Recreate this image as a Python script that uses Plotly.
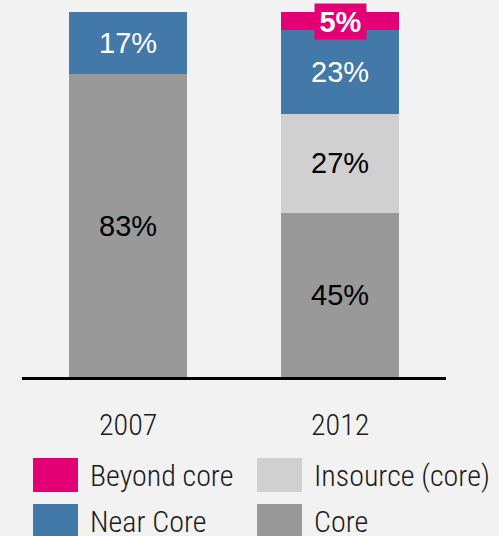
import plotly.graph_objects as go

years = ["2007", "2012"]
series_names = ["Core", "Insource (core)", "Near Core", "Beyond core"]
core = [83, 45]
insource = [0, 27]
near_core = [17, 23]
beyond_core = [0, 5]
series_values = [core, insource, near_core, beyond_core]
colors = ["#999999", "#d0d0d0", "#4279a9", "#e20074"]
label_colors = ["#000000", "#000000", "#ffffff", "#ffffff"]

W, H = 499, 536
L, R, T, B = 22, 53, 12, 159
PW, PH = W - L - R, H - T - B

def px_x(px):
    return (px - L) / PW

def px_y(py):
    return (H - B - py) / PH

fig = go.Figure()
for name, vals, col in zip(series_names, series_values, colors):
    fig.add_trace(go.Bar(x=[0, 1], y=vals, name=name, marker=dict(color=col, line=dict(width=0)),
                         width=0.557, showlegend=False, hoverinfo="skip"))

LABEL_FONT = "Liberation Sans, Arial, sans-serif"
COND_FONT = "Roboto Condensed, Liberation Sans, sans-serif"

annotations = []
for i in range(len(years)):
    base = 0
    for s, (vals, lc) in enumerate(zip(series_values, label_colors)):
        v = vals[i]
        if v > 0:
            mid = base + v / 2
            if series_names[s] == "Beyond core":
                annotations.append(dict(x=i, y=mid, xref="x", yref="y", text=f"<b>{v}%</b>",
                                        showarrow=False, font=dict(family=LABEL_FONT, size=29, color=lc),
                                        bgcolor=colors[s], width=51, height=35, borderpad=0,
                                        xanchor="center", yanchor="middle"))
            else:
                annotations.append(dict(x=i, y=mid, xref="x", yref="y", text=f"{v}%",
                                        showarrow=False, font=dict(family=LABEL_FONT, size=29, color=lc),
                                        xanchor="center", yanchor="middle"))
        base += v
    annotations.append(dict(x=i, y=px_y(425), xref="x", yref="paper", text=years[i], showarrow=False,
                            font=dict(family=COND_FONT, size=30, color="#1a1a1a", weight=300),
                            xanchor="center", yanchor="middle"))

# custom legend
legend_items = [("Beyond core", 3, 33, 458), ("Insource (core)", 1, 257, 458),
                ("Near Core", 2, 33, 504), ("Core", 0, 257, 504)]
shapes = []
for name, idx, lx, ly in legend_items:
    shapes.append(dict(type="rect", xref="paper", yref="paper",
                       x0=px_x(lx), x1=px_x(lx + 45), y0=px_y(ly), y1=px_y(ly + 34),
                       fillcolor=colors[idx], line=dict(width=0)))
    annotations.append(dict(x=px_x(lx + 55), y=px_y(ly + 17), xref="paper", yref="paper",
                            text=name, showarrow=False, xanchor="left", yanchor="middle",
                            font=dict(family=COND_FONT, size=30, color="#1a1a1a", weight=300)))

fig.update_layout(
    width=W, height=H, margin=dict(l=L, r=R, t=T, b=B, autoexpand=False),
    paper_bgcolor="#f2f2f2", plot_bgcolor="#f2f2f2",
    barmode="stack", bargap=0,
    xaxis=dict(range=[-0.5, 1.5], showticklabels=False, ticks="", showgrid=False, zeroline=False,
               showline=True, linecolor="#000000", linewidth=3),
    yaxis=dict(range=[0, 100], visible=False, showgrid=False, zeroline=False),
    annotations=annotations, shapes=shapes,
)
fig.write_html("out.html")
